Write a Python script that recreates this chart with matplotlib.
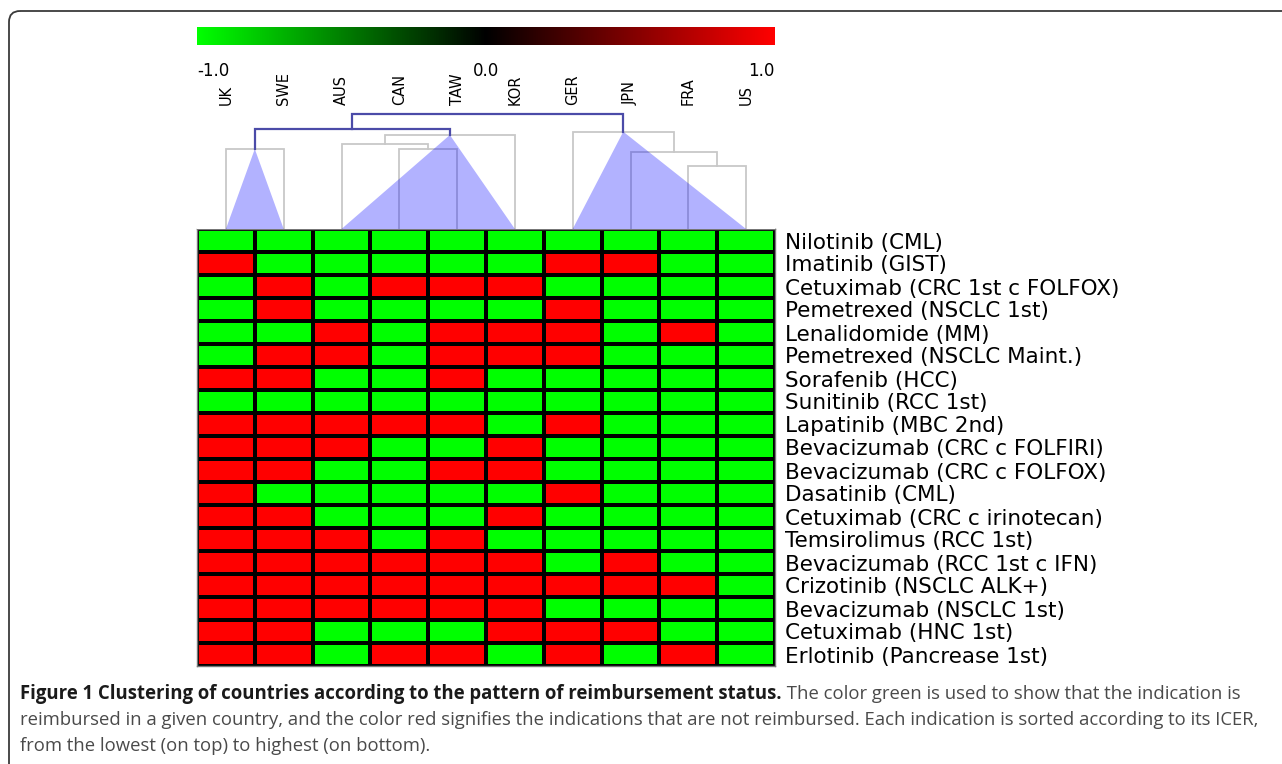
import matplotlib
matplotlib.use('Agg')
import matplotlib.pyplot as plt
import numpy as np
from matplotlib.colors import LinearSegmentedColormap
from matplotlib.patches import FancyBboxPatch, Polygon

# ---------------- data ----------------
countries = ['UK', 'SWE', 'AUS', 'CAN', 'TAW', 'KOR', 'GER', 'JPN', 'FRA', 'US']
indications = [
    'Nilotinib (CML)', 'Imatinib (GIST)', 'Cetuximab (CRC 1st c FOLFOX)',
    'Pemetrexed (NSCLC 1st)', 'Lenalidomide (MM)', 'Pemetrexed (NSCLC Maint.)',
    'Sorafenib (HCC)', 'Sunitinib (RCC 1st)', 'Lapatinib (MBC 2nd)',
    'Bevacizumab (CRC c FOLFIRI)', 'Bevacizumab (CRC c FOLFOX)', 'Dasatinib (CML)',
    'Cetuximab (CRC c irinotecan)', 'Temsirolimus (RCC 1st)',
    'Bevacizumab (RCC 1st c IFN)', 'Crizotinib (NSCLC ALK+)',
    'Bevacizumab (NSCLC 1st)', 'Cetuximab (HNC 1st)', 'Erlotinib (Pancrease 1st)'
]
# 1 = not reimbursed (red), 0 = reimbursed (green)
status = [
    [0, 0, 0, 0, 0, 0, 0, 0, 0, 0],
    [1, 0, 0, 0, 0, 0, 1, 1, 0, 0],
    [0, 1, 0, 1, 1, 1, 0, 0, 0, 0],
    [0, 1, 0, 0, 0, 0, 1, 0, 0, 0],
    [0, 0, 1, 0, 1, 1, 1, 0, 1, 0],
    [0, 1, 1, 0, 1, 1, 1, 0, 0, 0],
    [1, 1, 0, 0, 1, 0, 0, 0, 0, 0],
    [0, 0, 0, 0, 0, 0, 0, 0, 0, 0],
    [1, 1, 1, 1, 1, 0, 1, 0, 0, 0],
    [1, 1, 1, 0, 0, 1, 0, 0, 0, 0],
    [1, 1, 0, 0, 1, 1, 0, 0, 0, 0],
    [1, 0, 0, 0, 0, 0, 1, 0, 0, 0],
    [1, 1, 0, 0, 0, 1, 0, 0, 0, 0],
    [1, 1, 1, 0, 1, 0, 0, 0, 0, 0],
    [1, 1, 1, 1, 1, 1, 0, 1, 0, 0],
    [1, 1, 1, 1, 1, 1, 1, 1, 1, 0],
    [1, 1, 1, 1, 1, 1, 0, 0, 0, 0],
    [1, 1, 0, 0, 0, 1, 1, 1, 0, 0],
    [1, 1, 0, 1, 1, 0, 1, 0, 1, 0],
]
# dendrogram merges (left node, right node, height); leaves 0..9, merge k -> node 10+k
merges = [(0, 1, 80), (3, 4, 80), (2, 11, 85), (12, 5, 94), (8, 9, 62.7),
          (7, 14, 76.7), (6, 15, 97.3), (10, 13, 100), (17, 16, 115)]
highlight_clusters = [10, 13, 16]
blue_nodes = [17, 18]
cbar_values = [-1.0, 0.0, 1.0]
cbar_labels = ['-1.0', '0.0', '1.0']

caption_bold = 'Figure 1 Clustering of countries according to the pattern of reimbursement status.'
caption_l1 = ' The color green is used to show that the indication is'
caption_l2 = ('reimbursed in a given country, and the color red signifies the indications that are '
              'not reimbursed. Each indication is sorted according to its ICER,')
caption_l3 = 'from the lowest (on top) to highest (on bottom).'

# ---------------- figure ----------------
W, H = 1282, 764
fig = plt.figure(figsize=(W / 100, H / 100), dpi=100)
fig.patch.set_facecolor('white')

def frac(l, t, r, b):
    return [l / W, 1 - b / H, (r - l) / W, (b - t) / H]

ax_bg = fig.add_axes([0, 0, 1, 1])
ax_bg.set_xlim(0, W)
ax_bg.set_ylim(H, 0)
ax_bg.axis('off')
ax_bg.add_patch(FancyBboxPatch((9, 11), 1320, 790,
                               boxstyle='round,pad=0,rounding_size=11',
                               facecolor='none', edgecolor='#3a3a3a', lw=1.3))

cmap = LinearSegmentedColormap.from_list('gbr', ['#00ff00', '#000000', '#ff0000'])

# heatmap
ax_h = fig.add_axes(frac(197, 229, 775, 666))
vals = np.where(np.array(status) == 1, 1.0, -1.0)
ax_h.pcolormesh(vals, cmap=cmap, vmin=-1, vmax=1, edgecolors='black', linewidth=1.6)
ax_h.set_xlim(0, len(countries))
ax_h.set_ylim(len(indications), 0)
ax_h.set_xticks([])
ax_h.yaxis.tick_right()
ax_h.set_yticks(np.arange(len(indications)) + 0.5)
ax_h.set_yticklabels(indications, fontsize=15, family='DejaVu Sans', color='black')
ax_h.tick_params(axis='y', length=0, pad=7)
for s in ax_h.spines.values():
    s.set_color('#777777')
    s.set_linewidth(1.0)

# dendrogram
ax_d = fig.add_axes(frac(197, 108, 775, 229))
ax_d.set_xlim(-0.5, len(countries) - 0.5)
ax_d.set_ylim(0, 121)
for s in ax_d.spines.values():
    s.set_visible(False)
ax_d.set_yticks([])
ax_d.xaxis.tick_top()
ax_d.set_xticks(range(len(countries)))
ax_d.set_xticklabels(countries, rotation=90, fontsize=10.5, family='DejaVu Sans')
ax_d.tick_params(axis='x', length=0, pad=2)

pos = {i: (float(i), 0.0) for i in range(len(countries))}
leaves = {i: [i] for i in range(len(countries))}
for k, (a, b, h) in enumerate(merges):
    node = len(countries) + k
    xa, ha = pos[a]
    xb, hb = pos[b]
    col = '#4b4ba8' if node in blue_nodes else '#c8c8c8'
    lw = 1.6 if node in blue_nodes else 1.3
    ax_d.plot([xa, xa, xb, xb], [ha, h, h, hb], color=col, lw=lw,
              zorder=4 if node in blue_nodes else 2, solid_joinstyle='miter')
    pos[node] = ((xa + xb) / 2, h)
    leaves[node] = leaves[a] + leaves[b]

for c in highlight_clusters:
    xc, hc = pos[c]
    lo, hi = min(leaves[c]), max(leaves[c])
    ax_d.add_patch(Polygon([(lo, 0), (xc, hc), (hi, 0)], closed=True,
                           facecolor='#0000ff', alpha=0.3, edgecolor='none', zorder=3))

# colorbar
ax_c = fig.add_axes(frac(197, 27, 775, 45))
grad = np.linspace(-1, 1, 512)[None, :]
ax_c.imshow(grad, cmap=cmap, aspect='auto', extent=[-1, 1, 0, 1], vmin=-1, vmax=1)
ax_c.set_xlim(-1, 1)
ax_c.set_yticks([])
for s in ax_c.spines.values():
    s.set_visible(False)
ax_c.set_xticks(cbar_values)
ax_c.set_xticklabels(cbar_labels, fontsize=12, family='DejaVu Sans')
ax_c.tick_params(axis='x', length=0, pad=12)
tl = ax_c.get_xticklabels()
tl[0].set_ha('left')
tl[-1].set_ha('right')

# caption / label fitting
fig.canvas.draw()
r = fig.canvas.get_renderer()

widths = [t.get_window_extent(r).width for t in ax_h.get_yticklabels()]
fs_lab = 15 * 333.0 / max(widths)
for t in ax_h.get_yticklabels():
    t.set_fontsize(fs_lab)

t_b = ax_bg.text(20, 699, caption_bold, fontsize=12, fontweight='bold', family='Open Sans',
                 color='#1a1a1a', va='baseline', ha='left')
t_1 = ax_bg.text(0, 699, caption_l1, fontsize=12, family='Open Sans', color='#4a4a4a',
                 va='baseline', ha='left')
t_2 = ax_bg.text(20, 725, caption_l2, fontsize=12, family='Open Sans', color='#4a4a4a',
                 va='baseline', ha='left')
fig.canvas.draw()
w1 = t_b.get_window_extent(r).width + t_1.get_window_extent(r).width
w2 = t_2.get_window_extent(r).width
fs = min(12 * 1242.0 / w1, 12 * 1234.0 / w2)
for t in (t_b, t_1, t_2):
    t.set_fontsize(fs)
fig.canvas.draw()
wb = t_b.get_window_extent(r).width
t_1.set_x(20 + wb)
ax_bg.text(20, 751, caption_l3, fontsize=fs, family='Open Sans', color='#4a4a4a',
           va='baseline', ha='left')

fig.savefig('out.png', dpi=100, facecolor='white')
